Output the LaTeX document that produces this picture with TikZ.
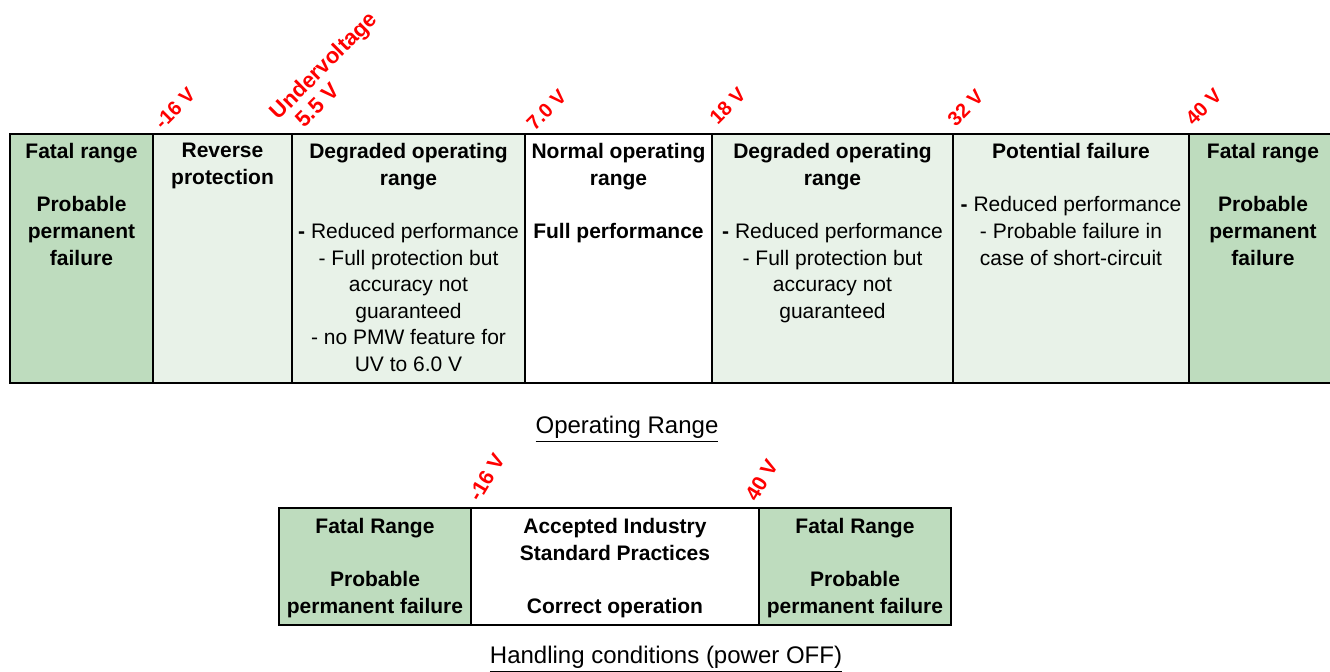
\documentclass[tikz,border=0pt]{standalone}
\usepackage{fontspec}
\setmainfont{Liberation Sans}
\definecolor{fatalgreen}{RGB}{190,220,190}
\definecolor{softgreen}{RGB}{232,242,232}

\begin{document}
\begin{tikzpicture}[
    x=0.5pt, y=-0.5pt,
    font=\fontsize{10.5}{13.3}\selectfont,
    cell/.style={draw, line width=1pt},
    fatal/.style={cell, fill=fatalgreen},
    soft/.style={cell, fill=softgreen},
    plain/.style={cell, fill=white},
    celltext/.style={anchor=north, align=center, inner sep=0pt},
    boldtext/.style={celltext, font=\fontsize{10.5}{13.3}\selectfont\bfseries},
    volt/.style={text=red, font=\fontsize{10}{11.5}\selectfont\bfseries, anchor=south west, inner sep=0pt, rotate=45},
    steepvolt/.style={volt, font=\fontsize{10.5}{12}\selectfont\bfseries, rotate=14},
    caption/.style={font=\fontsize{12}{14}\selectfont}
]
\useasboundingbox (0,0) rectangle (1330,672);

% Operating range
\foreach \l/\r/\s in {10/153/fatal, 153/292/soft, 292/525/soft, 525/712/plain, 712/953/soft, 953/1189/soft, 1189/1340/fatal}
    \draw[\s] (\l,134) rectangle (\r,383);

\node[boldtext] (fatlow) at (81.5,143) {Fatal range\\[13.3pt]Probable\\permanent\\failure};
\node[boldtext] (revprot) at (222.5,143) {Reverse\\protection};
\node[celltext] (degradlow) at (408.5,143) {\textbf{Degraded operating}\\\textbf{range}\\[13.3pt]\textbf{-} Reduced performance\\- Full protection but\\accuracy not\\guaranteed\\- no PMW feature for\\UV to 6.0 V};
\node[boldtext] (normop) at (618.5,143) {Normal operating\\range\\[13.3pt]Full performance};
\node[celltext] (degradhigh) at (832.5,143) {\textbf{Degraded operating}\\\textbf{range}\\[13.3pt]\textbf{-} Reduced performance\\- Full protection but\\accuracy not\\guaranteed};
\node[celltext] (potfail) at (1071,143) {\textbf{Potential failure}\\[13.3pt]\textbf{-} Reduced performance\\- Probable failure in\\case of short-circuit};
\node[boldtext] (fathigh) at (1263,143) {Fatal range\\[13.3pt]Probable\\permanent\\failure};

% Voltage limits
\node[volt] (vneg) at (163,131) {-16 V};
\node[volt, align=left, font=\fontsize{11}{12}\selectfont\bfseries] (vuv) at (296,138) {Undervoltage\\\hspace*{6pt}5.5 V};
\node[volt] (vseven) at (535,132) {7.0 V};
\node[volt] (veighteen) at (718,126) {18 V};
\node[volt] (vthirtytwo) at (956,128) {32 V};
\node[volt] (vforty) at (1194,127) {40 V};

\node[caption] (oprange) at (627,429) {\underline{Operating Range}};

% Handling conditions
\foreach \l/\r/\s in {279/471/fatal, 471/759/plain, 759/951/fatal}
    \draw[\s] (\l,508) rectangle (\r,625);

\node[boldtext] (hfatlow) at (375,518) {Fatal Range\\[13.3pt]Probable\\permanent failure};
\node[boldtext] (accepted) at (615,518) {Accepted Industry\\Standard Practices\\[13.3pt]Correct operation};
\node[boldtext] (hfathigh) at (855,518) {Fatal Range\\[13.3pt]Probable\\permanent failure};

\node[steepvolt] (hvneg) at (480,503) {-16 V};
\node[steepvolt] (hvforty) at (757,503) {40 V};

\node[caption] (handling) at (666,659) {\underline{Handling conditions (power OFF)}};

\end{tikzpicture}
\end{document}
